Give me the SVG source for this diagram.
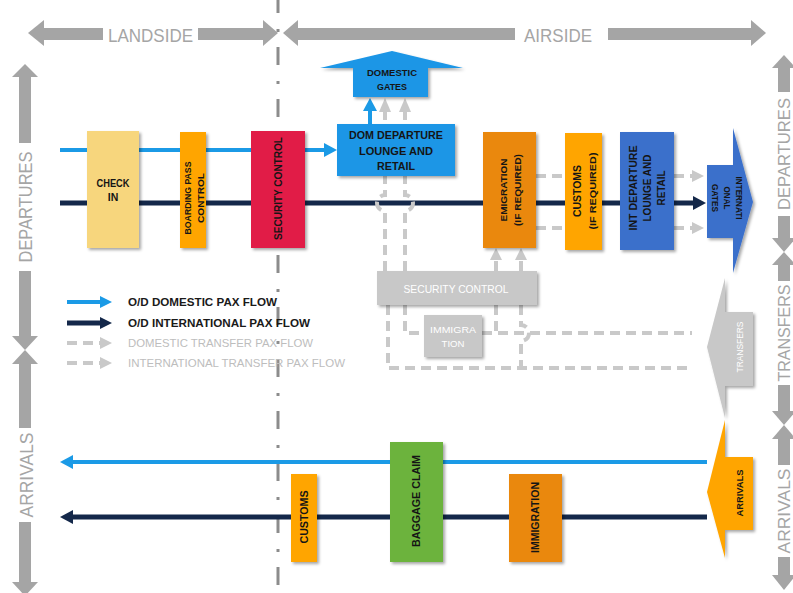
<svg xmlns="http://www.w3.org/2000/svg" width="793" height="593" viewBox="0 0 793 593">
  <defs>
    <filter id="sh" x="-30%" y="-30%" width="160%" height="160%">
      <feDropShadow dx="2" dy="2" stdDeviation="1.5" flood-color="#000" flood-opacity="0.35"/>
    </filter>
    <style>
      .t{font-family:"Liberation Sans",Arial,sans-serif;font-weight:bold;fill:#151515;}
      .side{font-family:"Liberation Sans",Arial,sans-serif;fill:#A5A5A5;font-size:19px;}
      .rside{font-family:"Liberation Sans",Arial,sans-serif;fill:#A5A5A5;font-size:16px;}
      .band{fill:#A5A5A5;}
      .gd{fill:none;stroke:#C9C9C9;stroke-width:4;stroke-dasharray:10 6;}
      .gh{fill:#C9C9C9;}
      .blue{stroke:#1B9AE6;stroke-width:4;fill:none;}
      .navy{stroke:#14284A;stroke-width:5;fill:none;}
      .leg{font-family:"Liberation Sans",Arial,sans-serif;font-size:11px;}
    </style>
  </defs>
  <rect width="793" height="593" fill="#FFFFFF"/>

  <!-- landside / airside boundary -->
  <line x1="278" y1="0" x2="278" y2="593" stroke="#8C8C8C" stroke-width="3" stroke-dasharray="18 16 3 15" stroke-dashoffset="5"/>

  <!-- zone bands -->
  <g id="zone-landside">
    <polygon class="band" points="28,33 44,20 44,46"/>
    <rect class="band" x="43" y="28" width="60" height="12"/>
    <rect class="band" x="198" y="28" width="66" height="12"/>
    <polygon class="band" points="263,20 278,33 263,46"/>
    <text class="side" x="108" y="42" textLength="85" lengthAdjust="spacingAndGlyphs">LANDSIDE</text>
  </g>
  <g id="zone-airside">
    <polygon class="band" points="283,33 298,20 298,46"/>
    <rect class="band" x="297" y="28" width="218" height="12"/>
    <rect class="band" x="608" y="28" width="144" height="12"/>
    <polygon class="band" points="751,20 766,33 751,46"/>
    <text class="side" x="524" y="42" textLength="68" lengthAdjust="spacingAndGlyphs">AIRSIDE</text>
  </g>
  <g id="zone-left">
    <polygon class="band" points="25,64 12,77 38,77"/>
    <rect class="band" x="19" y="76" width="12" height="67"/>
    <text class="side" transform="translate(25,207) rotate(-90)" x="0" y="7" text-anchor="middle" textLength="111" lengthAdjust="spacingAndGlyphs">DEPARTURES</text>
    <rect class="band" x="19" y="271" width="12" height="66"/>
    <polygon class="band" points="12,336 38,336 25,350"/>
    <polygon class="band" points="25,350 12,364 38,364"/>
    <rect class="band" x="19" y="363" width="12" height="65"/>
    <text class="side" transform="translate(26,475) rotate(-90)" x="0" y="7" text-anchor="middle" textLength="85" lengthAdjust="spacingAndGlyphs">ARRIVALS</text>
    <rect class="band" x="19" y="522" width="12" height="61"/>
    <polygon class="band" points="12,582 38,582 25,596"/>
  </g>
  <g id="zone-right">
    <polygon class="band" points="784,55 772,68 796,68"/>
    <rect class="band" x="778" y="67" width="12" height="25"/>
    <text class="rside" transform="translate(784,154) rotate(-90)" x="0" y="6" text-anchor="middle" textLength="112" lengthAdjust="spacingAndGlyphs">DEPARTURES</text>
    <rect class="band" x="778" y="216" width="12" height="23"/>
    <polygon class="band" points="772,238 796,238 784,252"/>
    <polygon class="band" points="784,252 772,265 796,265"/>
    <rect class="band" x="778" y="264" width="12" height="17"/>
    <text class="rside" transform="translate(784,333) rotate(-90)" x="0" y="6" text-anchor="middle" textLength="97" lengthAdjust="spacingAndGlyphs">TRANSFERS</text>
    <rect class="band" x="778" y="385" width="12" height="27"/>
    <polygon class="band" points="772,411 796,411 784,425"/>
    <polygon class="band" points="784,425 772,439 796,439"/>
    <rect class="band" x="778" y="438" width="12" height="27"/>
    <text class="rside" transform="translate(784,511) rotate(-90)" x="0" y="6" text-anchor="middle" textLength="85" lengthAdjust="spacingAndGlyphs">ARRIVALS</text>
    <rect class="band" x="778" y="557" width="12" height="19"/>
    <polygon class="band" points="772,575 796,575 784,590"/>
  </g>

  <!-- passenger flows -->
  <g id="connectors">
    <!-- O/D domestic departures -->
    <path class="blue" d="M60 150 H326"/>
    <polygon fill="#1B9AE6" points="337,150 324,143 324,157"/>
    <path class="blue" d="M370 124 V110"/>
    <polygon fill="#1B9AE6" points="370,98 363,111 377,111"/>
    <!-- O/D international departures -->
    <path class="navy" d="M60 203 H694"/>
    <polygon fill="#14284A" points="706,203 693,196 693,210"/>
    <!-- transfer flows -->
    <path class="gd" d="M385 271 V211 A8 8 0 0 1 385 195 V112"/>
    <polygon class="gh" points="385,98 379,112 391,112"/>
    <path class="gd" d="M405 271 V211 A8 8 0 0 0 405 195 V112"/>
    <polygon class="gh" points="405,98 399,112 411,112"/>
    <path class="gd" d="M496 271 V260"/>
    <polygon class="gh" points="496,248 490,260 502,260"/>
    <path class="gd" d="M521 271 V260"/>
    <polygon class="gh" points="521,248 515,260 527,260"/>
    <path class="gd" d="M388 305 V368 H692"/>
    <path class="gd" d="M405 305 V333 H424"/>
    <path class="gd" d="M482 333 H692"/>
    <path class="gd" d="M496 305 V333"/>
    <path class="gd" d="M521 305 V325 A8 8 0 0 1 521 341 V368"/>
    <path class="gd" d="M536 176 H565"/>
    <path class="gd" d="M536 228 H565"/>
    <path class="gd" d="M674 176 H692"/>
    <polygon class="gh" points="704,176 692,170 692,182"/>
    <path class="gd" d="M674 228 H692"/>
    <polygon class="gh" points="704,228 692,222 692,234"/>
    <!-- arrivals -->
    <path class="blue" d="M72 462 H707"/>
    <polygon fill="#1B9AE6" points="60,462 73,455 73,469"/>
    <path class="navy" d="M72 517 H707"/>
    <polygon fill="#14284A" points="60,517 73,510 73,524"/>
  </g>

  <!-- departures processors -->
  <g id="check-in">
    <rect x="87" y="131" width="52" height="117" fill="#F7D67D" filter="url(#sh)"/>
    <text class="t" font-size="10.5" text-anchor="middle"><tspan x="113" y="187" textLength="33" lengthAdjust="spacingAndGlyphs">CHECK</tspan><tspan x="113" y="201">IN</tspan></text>
  </g>
  <g id="boarding-pass">
    <rect x="180" y="132" width="26" height="116" fill="#FFA502" filter="url(#sh)"/>
    <text class="t" font-size="9.5" text-anchor="middle" transform="translate(193.5,198) rotate(-90)"><tspan x="0" y="-2.5" textLength="73" lengthAdjust="spacingAndGlyphs">BOARDING PASS</tspan><tspan x="0" y="10" textLength="50" lengthAdjust="spacingAndGlyphs">CONTROL</tspan></text>
  </g>
  <g id="security">
    <rect x="251" y="131" width="54" height="117" fill="#E11E47" filter="url(#sh)"/>
    <text class="t" font-size="10" text-anchor="middle" transform="translate(278,188.5) rotate(-90)" x="0" y="3.5" textLength="103" lengthAdjust="spacingAndGlyphs">SECURITY CONTROL</text>
  </g>
  <g id="dom-lounge">
    <rect x="337" y="124" width="118" height="52" fill="#1B96E6" filter="url(#sh)"/>
    <text class="t" text-anchor="middle" fill="#0F1E38"><tspan x="396" y="139" font-size="10.5" textLength="94" lengthAdjust="spacingAndGlyphs">DOM DEPARTURE</tspan><tspan x="396" y="155" font-size="11" textLength="74" lengthAdjust="spacingAndGlyphs">LOUNGE AND</tspan><tspan x="396" y="170" font-size="10" textLength="38" lengthAdjust="spacingAndGlyphs">RETAIL</tspan></text>
  </g>
  <g id="dom-gates">
    <polygon points="320,68 392,51 463,68 428,68 428,97 353,97 353,68" fill="#1B96E6" filter="url(#sh)"/>
    <text class="t" font-size="9.5" text-anchor="middle"><tspan x="392" y="76" textLength="50" lengthAdjust="spacingAndGlyphs">DOMESTIC</tspan><tspan x="392" y="90" textLength="30" lengthAdjust="spacingAndGlyphs">GATES</tspan></text>
  </g>
  <g id="emigration">
    <rect x="483" y="132" width="53" height="116" fill="#EA880E" filter="url(#sh)"/>
    <text class="t" text-anchor="middle" transform="translate(509.5,190) rotate(-90)"><tspan x="0" y="-3" font-size="9.5" textLength="63" lengthAdjust="spacingAndGlyphs">EMIGRATION</tspan><tspan x="0" y="11.5" font-size="8.5" textLength="72" lengthAdjust="spacingAndGlyphs">(IF REQUIRED)</tspan></text>
  </g>
  <g id="dep-customs">
    <rect x="565" y="133" width="37" height="117" fill="#FFA502" filter="url(#sh)"/>
    <text class="t" text-anchor="middle" transform="translate(584,191) rotate(-90)"><tspan x="0" y="-3" font-size="10.5" textLength="52" lengthAdjust="spacingAndGlyphs">CUSTOMS</tspan><tspan x="0" y="11.5" font-size="9.5" textLength="77" lengthAdjust="spacingAndGlyphs">(IF REQUIRED)</tspan></text>
  </g>
  <g id="int-lounge">
    <rect x="620" y="132" width="54" height="118" fill="#3B6FCB" filter="url(#sh)"/>
    <text class="t" font-size="10.5" text-anchor="middle" transform="translate(647,188) rotate(-90)"><tspan x="0" y="-10.5" textLength="85" lengthAdjust="spacingAndGlyphs">INT DEPARTURE</tspan><tspan x="0" y="3.5" textLength="67" lengthAdjust="spacingAndGlyphs">LOUNGE AND</tspan><tspan x="0" y="17.5" textLength="35" lengthAdjust="spacingAndGlyphs">RETAIL</tspan></text>
  </g>
  <g id="int-gates">
    <polygon points="707,165 733,165 733,128 753,202 733,273 733,238 707,238" fill="#3B6FCB" filter="url(#sh)"/>
    <text class="t" font-size="9.5" text-anchor="middle" transform="translate(727,198) rotate(90)"><tspan x="0" y="-8.5" textLength="43" lengthAdjust="spacingAndGlyphs">INTERNATI</tspan><tspan x="0" y="3.5" textLength="23" lengthAdjust="spacingAndGlyphs">ONAL</tspan><tspan x="0" y="15.5" textLength="28" lengthAdjust="spacingAndGlyphs">GATES</tspan></text>
  </g>

  <!-- transfer processors -->
  <g id="transfer-security">
    <rect x="377" y="271" width="160" height="34" fill="#C8C8C8" filter="url(#sh)"/>
    <text x="456" y="293" text-anchor="middle" font-family="Liberation Sans, Arial, sans-serif" font-size="11" fill="#FFFFFF" textLength="105" lengthAdjust="spacingAndGlyphs">SECURITY CONTROL</text>
  </g>
  <g id="transfer-immigration">
    <rect x="424" y="315" width="58" height="42" fill="#C8C8C8" filter="url(#sh)"/>
    <text font-family="Liberation Sans, Arial, sans-serif" font-size="9" fill="#FFFFFF" text-anchor="middle"><tspan x="453" y="333" textLength="46" lengthAdjust="spacingAndGlyphs">IMMIGRA</tspan><tspan x="453" y="347" textLength="23" lengthAdjust="spacingAndGlyphs">TION</tspan></text>
  </g>
  <g id="transfers">
    <polygon points="753,312 725,312 725,278 707,347 725,418 725,386 753,386" fill="#C8C8C8" filter="url(#sh)"/>
    <text font-family="Liberation Sans, Arial, sans-serif" font-size="9.5" fill="#FFFFFF" text-anchor="middle" transform="translate(739,347) rotate(-90)" x="0" y="3.5" textLength="51" lengthAdjust="spacingAndGlyphs">TRANSFERS</text>
  </g>

  <!-- arrivals processors -->
  <g id="arrivals">
    <polygon points="753,457 725,457 725,420 707,492 725,558 725,530 753,530" fill="#FFA502" filter="url(#sh)"/>
    <text class="t" font-size="9.5" text-anchor="middle" transform="translate(739,493) rotate(-90)" x="0" y="3.5" textLength="47" lengthAdjust="spacingAndGlyphs">ARRIVALS</text>
  </g>
  <g id="arr-customs">
    <rect x="291" y="474" width="26" height="88" fill="#FFA502" filter="url(#sh)"/>
    <text class="t" font-size="10" text-anchor="middle" transform="translate(304,517) rotate(-90)" x="0" y="3.5" textLength="53" lengthAdjust="spacingAndGlyphs">CUSTOMS</text>
  </g>
  <g id="baggage-claim">
    <rect x="390" y="442" width="53" height="120" fill="#6CB33E" filter="url(#sh)"/>
    <text class="t" font-size="10" text-anchor="middle" transform="translate(416.5,501) rotate(-90)" x="0" y="3.5" textLength="92" lengthAdjust="spacingAndGlyphs">BAGGAGE CLAIM</text>
  </g>
  <g id="arr-immigration">
    <rect x="509" y="474" width="53" height="88" fill="#EA880E" filter="url(#sh)"/>
    <text class="t" font-size="10" text-anchor="middle" transform="translate(535.5,517.5) rotate(-90)" x="0" y="3.5" textLength="71" lengthAdjust="spacingAndGlyphs">IMMIGRATION</text>
  </g>

  <!-- legend -->
  <g id="legend">
    <path class="blue" d="M67 302 H101"/>
    <polygon fill="#1B9AE6" points="112,302 100,296 100,308"/>
    <text class="leg" x="128" y="306" font-weight="bold" fill="#1A1A1A" textLength="149" lengthAdjust="spacingAndGlyphs">O/D DOMESTIC PAX FLOW</text>
    <path class="navy" d="M67 323 H101"/>
    <polygon fill="#14284A" points="112,323 100,317 100,329"/>
    <text class="leg" x="128" y="327" font-weight="bold" fill="#1A1A1A" textLength="182" lengthAdjust="spacingAndGlyphs">O/D INTERNATIONAL PAX FLOW</text>
    <path class="gd" d="M67 343 H101" stroke-dasharray="13 6"/>
    <polygon class="gh" points="112,343 100,337 100,349"/>
    <text class="leg" x="128" y="347" fill="#BDBDBD" textLength="185" lengthAdjust="spacingAndGlyphs">DOMESTIC TRANSFER PAX FLOW</text>
    <path class="gd" d="M67 363 H101" stroke-dasharray="13 6"/>
    <polygon class="gh" points="112,363 100,357 100,369"/>
    <text class="leg" x="128" y="367" fill="#BDBDBD" textLength="217" lengthAdjust="spacingAndGlyphs">INTERNATIONAL TRANSFER PAX FLOW</text>
  </g>
</svg>
